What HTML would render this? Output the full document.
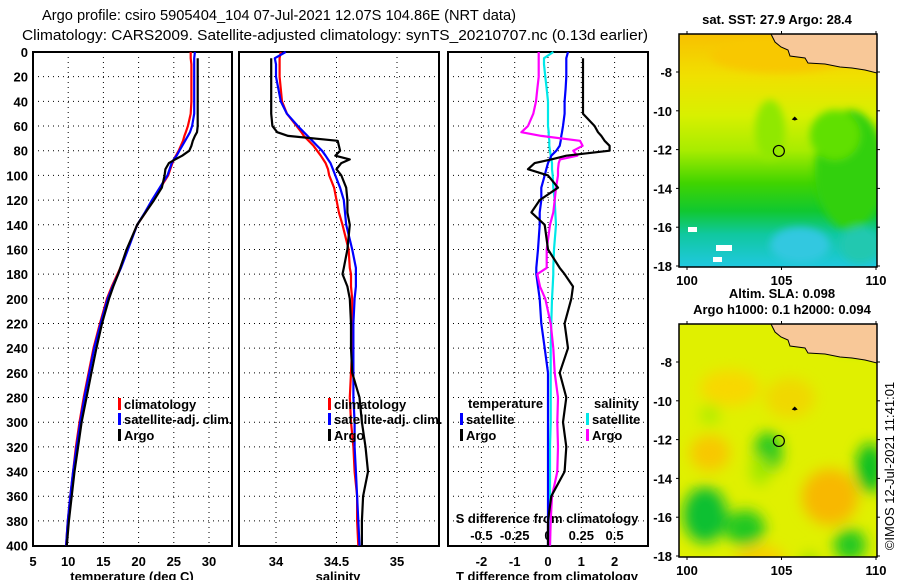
<!DOCTYPE html>
<html><head><meta charset="utf-8"><style>
html,body{margin:0;padding:0;background:#fff;}
svg{display:block;font-family:"Liberation Sans",sans-serif;}
.t{font-weight:bold;font-size:13px;}
</style></head><body>
<svg id="c" width="900" height="580" viewBox="0 0 900 580">
<defs>
<filter id="bl" x="-20%" y="-20%" width="140%" height="140%"><feGaussianBlur stdDeviation="7"/></filter>
<filter id="bl2" x="-20%" y="-20%" width="140%" height="140%"><feGaussianBlur stdDeviation="4"/></filter>
<clipPath id="m1"><rect x="679" y="34" width="198" height="233"/></clipPath>
<clipPath id="m2"><rect x="679" y="324" width="198" height="233"/></clipPath>
<linearGradient id="sst" x1="0" y1="0" x2="0" y2="1">
<stop offset="0" stop-color="#f8c000"/><stop offset="0.18" stop-color="#f0e000"/><stop offset="0.35" stop-color="#d8f000"/>
<stop offset="0.5" stop-color="#a8ec00"/><stop offset="0.64" stop-color="#40d400"/><stop offset="0.76" stop-color="#10c830"/>
<stop offset="0.86" stop-color="#10c8a0"/><stop offset="1" stop-color="#20c8e0"/></linearGradient>
</defs>
<text x="42" y="20" font-size="15" textLength="474" lengthAdjust="spacingAndGlyphs">Argo profile: csiro 5905404_104 07-Jul-2021 12.07S 104.86E (NRT data)</text>
<text x="22" y="40" font-size="15" textLength="626" lengthAdjust="spacingAndGlyphs">Climatology: CARS2009. Satellite-adjusted climatology: synTS_20210707.nc (0.13d earlier)</text>
<g id="plots"></g>
<g id="maps"></g>
</svg>
<script>
// ---- data ----
const depths = [0,5,10,20,30,40,50,60,65,68,72,76,80,84,87,90,95,100,110,120,130,140,160,175,180,190,200,220,240,260,280,300,320,340,360,380,400];
const tempClim = [27.4,27.4,27.5,27.5,27.5,27.5,27.4,27.0,26.7,26.5,26.3,26.0,25.7,25.3,25.0,24.8,24.5,24.2,23.1,22.0,21.0,19.8,18.4,17.4,17.0,16.2,15.5,14.5,13.6,12.9,12.2,11.6,11.1,10.7,10.3,9.95,9.7];
const tempSat = [28.0,27.9,27.9,27.9,27.9,27.9,27.9,27.6,27.3,27.0,26.6,26.2,25.8,25.4,25.0,24.7,24.4,24.1,23.0,21.9,20.9,19.8,18.5,17.5,17.1,16.3,15.6,14.6,13.7,13.0,12.3,11.7,11.2,10.7,10.3,9.95,9.7];
const tempArgo = [null,28.4,28.4,28.4,28.4,28.4,28.4,28.4,28.3,28.0,27.7,27.5,27.2,26.2,25.2,24.3,23.8,23.7,23.3,22.2,21.0,19.8,18.3,17.4,17.1,16.4,15.8,14.8,14.0,13.3,12.6,11.9,11.4,10.9,10.5,10.1,9.8];
const salClim = [34.04,34.03,34.03,34.03,34.04,34.05,34.09,34.17,34.21,34.23,34.27,34.31,34.34,34.37,34.39,34.41,34.43,34.44,34.48,34.50,34.52,34.55,34.60,34.61,34.62,34.62,34.63,34.63,34.63,34.62,34.61,34.62,34.64,34.65,34.67,34.67,34.68];
const salSat = [34.08,33.99,34.0,34.0,34.02,34.04,34.09,34.18,34.23,34.26,34.30,34.34,34.38,34.41,34.43,34.45,34.47,34.49,34.53,34.56,34.57,34.58,34.63,34.66,34.66,34.66,34.65,34.64,34.64,34.64,34.64,34.65,34.65,34.66,34.67,34.68,34.69];
const salArgo = [null,33.96,33.96,33.96,33.96,33.96,33.96,33.97,34.01,34.10,34.51,34.52,34.53,34.49,34.61,34.54,34.50,34.54,34.58,34.59,34.59,34.61,34.59,34.56,34.55,34.59,34.61,34.62,34.62,34.63,34.69,34.71,34.74,34.76,34.72,34.71,34.71];
const dTSat = [0.6,0.55,0.55,0.55,0.53,0.5,0.5,0.45,0.42,0.4,0.38,0.35,0.25,0.1,0.05,0.0,-0.05,-0.1,-0.2,-0.2,-0.25,-0.25,-0.3,-0.35,-0.35,-0.3,-0.25,-0.2,-0.1,0.0,0.0,0.0,0.0,0.0,0.0,0.0,0.0];
const dTArgo = [null,1.05,1.05,1.05,1.05,1.05,1.05,1.4,1.5,1.6,1.7,1.85,1.85,0.55,0.1,-0.4,-0.6,0.0,0.3,-0.25,-0.5,-0.1,0.0,0.35,0.5,0.75,0.7,0.5,0.6,0.35,0.55,0.45,0.55,0.5,0.1,0.0,0.0];
const dSSat = [0.04,-0.03,-0.03,-0.02,-0.01,0,0,0,0.005,0.005,0.01,0.01,0.015,0.02,0.025,0.03,0.03,0.035,0.04,0.05,0.055,0.06,0.045,0.04,0.04,0.035,0.03,0.025,0.02,0.02,0.02,0.02,0.015,0.015,0.015,0.015,0.015];
const dSArgo = [-0.07,-0.07,-0.07,-0.07,-0.08,-0.09,-0.11,-0.15,-0.2,-0.05,0.24,0.26,0.19,0.22,0.09,0.08,0.075,0.075,0.06,0.05,0.04,0.015,-0.01,-0.01,-0.08,-0.06,-0.02,0.02,0.04,0.05,0.075,0.07,0.075,0.07,0.03,0.02,0.015];
const depthTicks = [0,20,40,60,80,100,120,140,160,180,200,220,240,260,280,300,320,340,360,380,400];
const tempTicks = [5,10,15,20,25,30];
const salTicks = [34,34.5,35];
const dTTicks = [-2,-1,0,1,2];
const dSTicks = [-0.5,-0.25,0,0.25,0.5];
const dSTickLabels = ["-0.5","-0.25","0","0.25","0.5"];

// ---- axes ----
const Y = d => 52 + d*1.234;
const XT = t => 33 + (t-5)*7.04;
const XS = s => 276 + (s-34)*121;
const XdT = v => 548 + v*33.3;
const XdS = v => 548 + v*133.2;
const NS = 'http://www.w3.org/2000/svg';
const plots = document.getElementById('plots');
function mk(tag, attrs, parent){ const e=document.createElementNS(NS,tag); for(const k in attrs) e.setAttribute(k,attrs[k]); (parent||plots).appendChild(e); return e; }
function txt(x,y,s,anchor,cls){ const e=mk('text',{x:x,y:y,'text-anchor':anchor||'middle','class':cls||'t'}); e.textContent=s; return e; }

const panels = [
 {x0:33,x1:232,name:'temperature-panel'},
 {x0:239,x1:439,name:'salinity-panel'},
 {x0:448,x1:648,name:'difference-panel'}];
panels.forEach((p,i)=>{
  const g = mk('g',{});
  
  
  depthTicks.forEach(d=>{ if(d>0&&d<400){ const l=mk('line',{x1:p.x0,x2:p.x1,y1:Y(d),y2:Y(d),stroke:'#000','stroke-dasharray':'1 4'},g);
      }});
  const ticks = i==0?tempTicks.map(XT):i==1?salTicks.map(XS):dTTicks.map(XdT);
  ticks.forEach(x=>{ if(x>p.x0+1&&x<p.x1-1){ const l=mk('line',{x1:x,x2:x,y1:52,y2:546,stroke:'#000','stroke-dasharray':'1 4'},g);
      }});
  const r = mk('rect',{x:p.x0,y:52,width:p.x1-p.x0,height:494,fill:'none',stroke:'#000','stroke-width':2},g);
   
});
depthTicks.forEach(d=>{ const e=txt(28,Y(d)+5,String(d),'end');
    });
tempTicks.forEach(t=>{ const e=txt(XT(t),566,String(t));
    });
salTicks.forEach(t=>{ const e=txt(XS(t),566,String(t));
    });
dTTicks.forEach(t=>{ const e=txt(XdT(t),566,String(t));
    });
dSTicks.forEach((t,i)=>{ const e=txt(XdS(t),540,dSTickLabels[i]);
    });
let e;
e=txt(132,581,'temperature (deg C)');  
e=txt(338,581,'salinity');  
e=txt(547,581,'T difference from climatology');  
e=txt(547,523,'S difference from climatology');  

function series(vals, X, color, name){
  let d=''; let started=false;
  vals.forEach((v,i)=>{ if(v===null) return; d += (started?'L':'M')+X(v).toFixed(1)+' '+Y(depths[i]).toFixed(1)+' '; started=true; });
  const p = mk('path',{d:d,fill:'none',stroke:color,'stroke-width':2.2,'stroke-linejoin':'round'});
  
  
}
series(tempClim, XT, '#ff0000', 'temperature-climatology-line');
series(tempSat, XT, '#0000ff', 'temperature-satellite-line');
series(tempArgo, XT, '#000000', 'temperature-argo-line');
series(salClim, XS, '#ff0000', 'salinity-climatology-line');
series(salSat, XS, '#0000ff', 'salinity-satellite-line');
series(salArgo, XS, '#000000', 'salinity-argo-line');
series(dSSat, XdS, '#00e8e8', 's-diff-satellite-line');
series(dTSat, XdT, '#0000ff', 't-diff-satellite-line');
series(dSArgo, XdS, '#ff00ff', 's-diff-argo-line');
series(dTArgo, XdT, '#000000', 't-diff-argo-line');

function legend(x,y,color,label){
  const g = mk('g',{});
  
  
  mk('rect',{x:x,y:y-11,width:3,height:12,fill:color},g);
  const t=mk('text',{x:x+6,y:y,'class':'t'},g); t.textContent=label;
}
legend(118,409,'#ff0000','climatology'); legend(118,424,'#0000ff','satellite-adj. clim.'); legend(118,440,'#000000','Argo');
legend(328,409,'#ff0000','climatology'); legend(328,424,'#0000ff','satellite-adj. clim.'); legend(328,440,'#000000','Argo');
e=txt(468,408,'temperature','start');  
e=txt(594,408,'salinity','start');  
legend(460,424,'#0000ff','satellite'); legend(460,440,'#000000','Argo');
legend(586,424,'#00e8e8','satellite'); legend(586,440,'#ff00ff','Argo');

// ---- maps ----
const maps = document.getElementById('maps');
const lonTicks=[100,105,110], latTicks=[-8,-10,-12,-14,-16,-18];
const LX = lon => 687 + (lon-100)*18.9;
const LY = (lat,top) => top + 38 + (-8-lat)*19.4;
function land(top){ const o=top-34;
  return `M771 ${34+o} L775 ${42+o} L781 ${47+o} L788 ${50+o} L790 ${56+o} L805 ${58+o} L808 ${63+o} L825 ${64+o} L840 ${67+o} L852 ${68+o} L865 ${70+o} L877 ${73+o} L877 ${34+o} Z`; }
function mapFrame(top, clip, name, fillFn){
  const g=mk('g',{},maps);
   
  const cg=mk('g',{'clip-path':'url(#'+clip+')'},g);
  fillFn(cg);
  const l=mk('path',{d:land(top),fill:'#f8c898',stroke:'#000','stroke-width':1},cg);
   
  mk('rect',{x:679,y:top,width:198,height:233,fill:'none',stroke:'#000','stroke-width':1.5},g);
  lonTicks.forEach(lo=>{ mk('line',{x1:LX(lo),x2:LX(lo),y1:top-3,y2:top,stroke:'#000'},g); mk('line',{x1:LX(lo),x2:LX(lo),y1:top+233,y2:top+236,stroke:'#000'},g);
    const t=mk('text',{x:LX(lo),y:top+251,'text-anchor':'middle','class':'t'},g); t.textContent=lo; });
  latTicks.forEach(la=>{ const y=LY(la,top); mk('line',{x1:676,x2:679,y1:y,y2:y,stroke:'#000'},g); mk('line',{x1:877,x2:880,y1:y,y2:y,stroke:'#000'},g);
    const t=mk('text',{x:672,y:y+5,'text-anchor':'end','class':'t'},g); t.textContent=la; });
  const c=mk('circle',{cx:LX(104.86),cy:LY(-12.07,top),r:5.5,fill:'none',stroke:'#000','stroke-width':1.2},g);
   
  mk('path',{d:`M${LX(105.7)-3} ${LY(-10.45,top)} l3 -3 l3 3 l-3 1 z`,fill:'#000'},g);
}
mapFrame(34,'m1','sst-map',cg=>{
  mk('rect',{x:679,y:34,width:198,height:233,fill:'url(#sst)'},cg);
  const b=mk('g',{filter:'url(#bl2)'},cg);
  mk('ellipse',{cx:850,cy:170,rx:35,ry:60,fill:'#30d010'},b);
  mk('ellipse',{cx:835,cy:135,rx:25,ry:25,fill:'#60e000'},b);
  mk('ellipse',{cx:770,cy:130,rx:15,ry:30,fill:'#90e800'},b);
  mk('ellipse',{cx:800,cy:245,rx:30,ry:18,fill:'#30c8e0'},b);
  mk('ellipse',{cx:860,cy:245,rx:20,ry:18,fill:'#20c8b0'},b);
  mk('ellipse',{cx:780,cy:55,rx:70,ry:18,fill:'#f8c800'},b);
  mk('rect',{x:688,y:227,width:9,height:5,fill:'#fff'},cg);
  mk('rect',{x:716,y:245,width:16,height:6,fill:'#fff'},cg);
  mk('rect',{x:713,y:257,width:9,height:5,fill:'#fff'},cg);
});
mapFrame(324,'m2','sla-map',cg=>{
  mk('rect',{x:679,y:324,width:198,height:233,fill:'#e0f000'},cg);
  const b=mk('g',{filter:'url(#bl)'},cg);
  [[730,388,30,18,'#f8d800'],[790,398,25,20,'#f0d800'],[710,453,20,18,'#f8c800'],[830,497,28,28,'#f8b800'],[760,560,25,15,'#f8d000'],
   [710,415,10,10,'#b0ec00'],[768,452,14,20,'#20c820'],[705,515,22,28,'#10c030'],[745,528,20,18,'#20c820'],[870,468,14,25,'#10c020'],
   [850,545,16,16,'#20c820'],[810,570,10,18,'#a0e000'],[855,335,25,12,'#20d010'],[760,470,10,15,'#a0e800']]
   .forEach(a=>mk('ellipse',{cx:a[0],cy:a[1],rx:a[2],ry:a[3],fill:a[4]},b));
});
const t1=mk('text',{x:777,y:24,'text-anchor':'middle','class':'t'},maps); t1.textContent='sat. SST: 27.9 Argo: 28.4';
 
const t2=mk('text',{x:782,y:298,'text-anchor':'middle','class':'t'},maps); t2.textContent='Altim. SLA: 0.098';
 
const t3=mk('text',{x:782,y:314,'text-anchor':'middle','class':'t'},maps); t3.textContent='Argo h1000: 0.1 h2000: 0.094';
 
const cp=mk('text',{x:0,y:0,'text-anchor':'middle','font-size':'13',transform:'translate(894,466) rotate(-90)'},maps); cp.textContent='©IMOS 12-Jul-2021 11:41:01';
 
</script>
</body></html>
